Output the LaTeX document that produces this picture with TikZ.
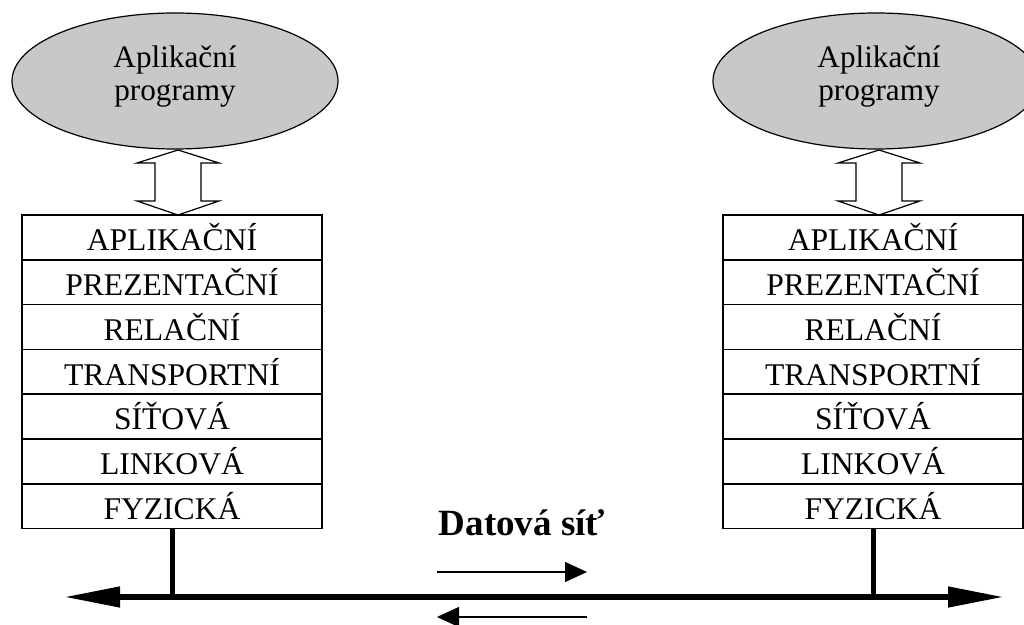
\documentclass[tikz,border=0pt]{standalone}
\usepackage{fontspec}
\setmainfont{Liberation Serif}
\usetikzlibrary{arrows.meta,shapes.geometric,positioning,calc}
\definecolor{ellgray}{RGB}{200,200,200}
\newcommand\dblArrowShape[1]{%
  \draw[dblarrow] (#1) -- ++(41,13) -- ++(-18,0) -- ++(0,38) -- ++(18,0) -- ++(-41,14)
    -- ++(-41,-14) -- ++(18,0) -- ++(0,-38) -- ++(-18,0) -- cycle;}
\begin{document}
\begin{tikzpicture}[x=0.5pt,y=-0.5pt,
  layer/.style={draw, line width=0.75pt, minimum width=150pt, minimum height=22.4pt,
    inner sep=0pt, outer sep=0pt, text height=17.9pt, text depth=4.5pt,
    font=\fontsize{15.8pt}{18pt}\selectfont},
  appell/.style={ellipse, draw, line width=0.6pt, fill=ellgray, minimum width=163pt,
    minimum height=68pt, inner sep=0pt},
  apptext/.style={align=center, inner sep=0pt, font=\fontsize{15.6pt}{16.5pt}\selectfont},
  dblarrow/.style={draw, fill=white, line width=0.6pt, line join=miter},
  bus/.style={line width=3pt, {Triangle[length=27pt,width=10.5pt,line width=0.6pt]}-{Triangle[length=27pt,width=10.5pt,line width=0.6pt]}},
  stub/.style={line width=2.5pt},
  flow/.style={line width=0.75pt, -{Triangle[length=11pt,width=10pt,line width=0.5pt]}},
  nettext/.style={font=\bfseries\fontsize{18.5pt}{20pt}\selectfont, inner sep=0pt, anchor=base}
]
\clip (0,0) rectangle (1024,625);

% left side
\node[appell] (elL) at (175,81) {};
\node[apptext] (tL) at (175,76.3) {Aplikační\\programy};
\dblArrowShape{178,150}
\node[layer] (l1) at (172,237.4) {APLIKAČNÍ};
\node[layer, below=0pt of l1] (l2) {PREZENTAČNÍ};
\node[layer, below=0pt of l2] (l3) {RELAČNÍ};
\node[layer, below=0pt of l3] (l4) {TRANSPORTNÍ};
\node[layer, below=0pt of l4] (l5) {SÍŤOVÁ};
\node[layer, below=0pt of l5] (l6) {LINKOVÁ};
\node[layer, below=0pt of l6] (l7) {FYZICKÁ};

% right side
\node[appell] (elR) at (876,81) {};
\node[apptext] (tR) at (879,76.3) {Aplikační\\programy};
\dblArrowShape{879,150}
\node[layer] (r1) at (873,237.4) {APLIKAČNÍ};
\node[layer, below=0pt of r1] (r2) {PREZENTAČNÍ};
\node[layer, below=0pt of r2] (r3) {RELAČNÍ};
\node[layer, below=0pt of r3] (r4) {TRANSPORTNÍ};
\node[layer, below=0pt of r4] (r5) {SÍŤOVÁ};
\node[layer, below=0pt of r5] (r6) {LINKOVÁ};
\node[layer, below=0pt of r6] (r7) {FYZICKÁ};

% network
\coordinate (busL) at (66,597);
\coordinate (busR) at (1002,597);
\draw[bus] (busL) -- (busR);
\draw[stub] (l7.south) -- (l7.south |- busL);
\draw[stub] (r7.south) -- (r7.south |- busL);

\node[nettext] (net) at (522,536) {Datová síť};
\coordinate (f1a) at (437,572);
\coordinate (f1b) at (587,572);
\coordinate (f2a) at (587,617);
\coordinate (f2b) at (437,617);
\draw[flow] (f1a) -- (f1b);
\draw[flow] (f2a) -- (f2b);
\end{tikzpicture}
\end{document}
